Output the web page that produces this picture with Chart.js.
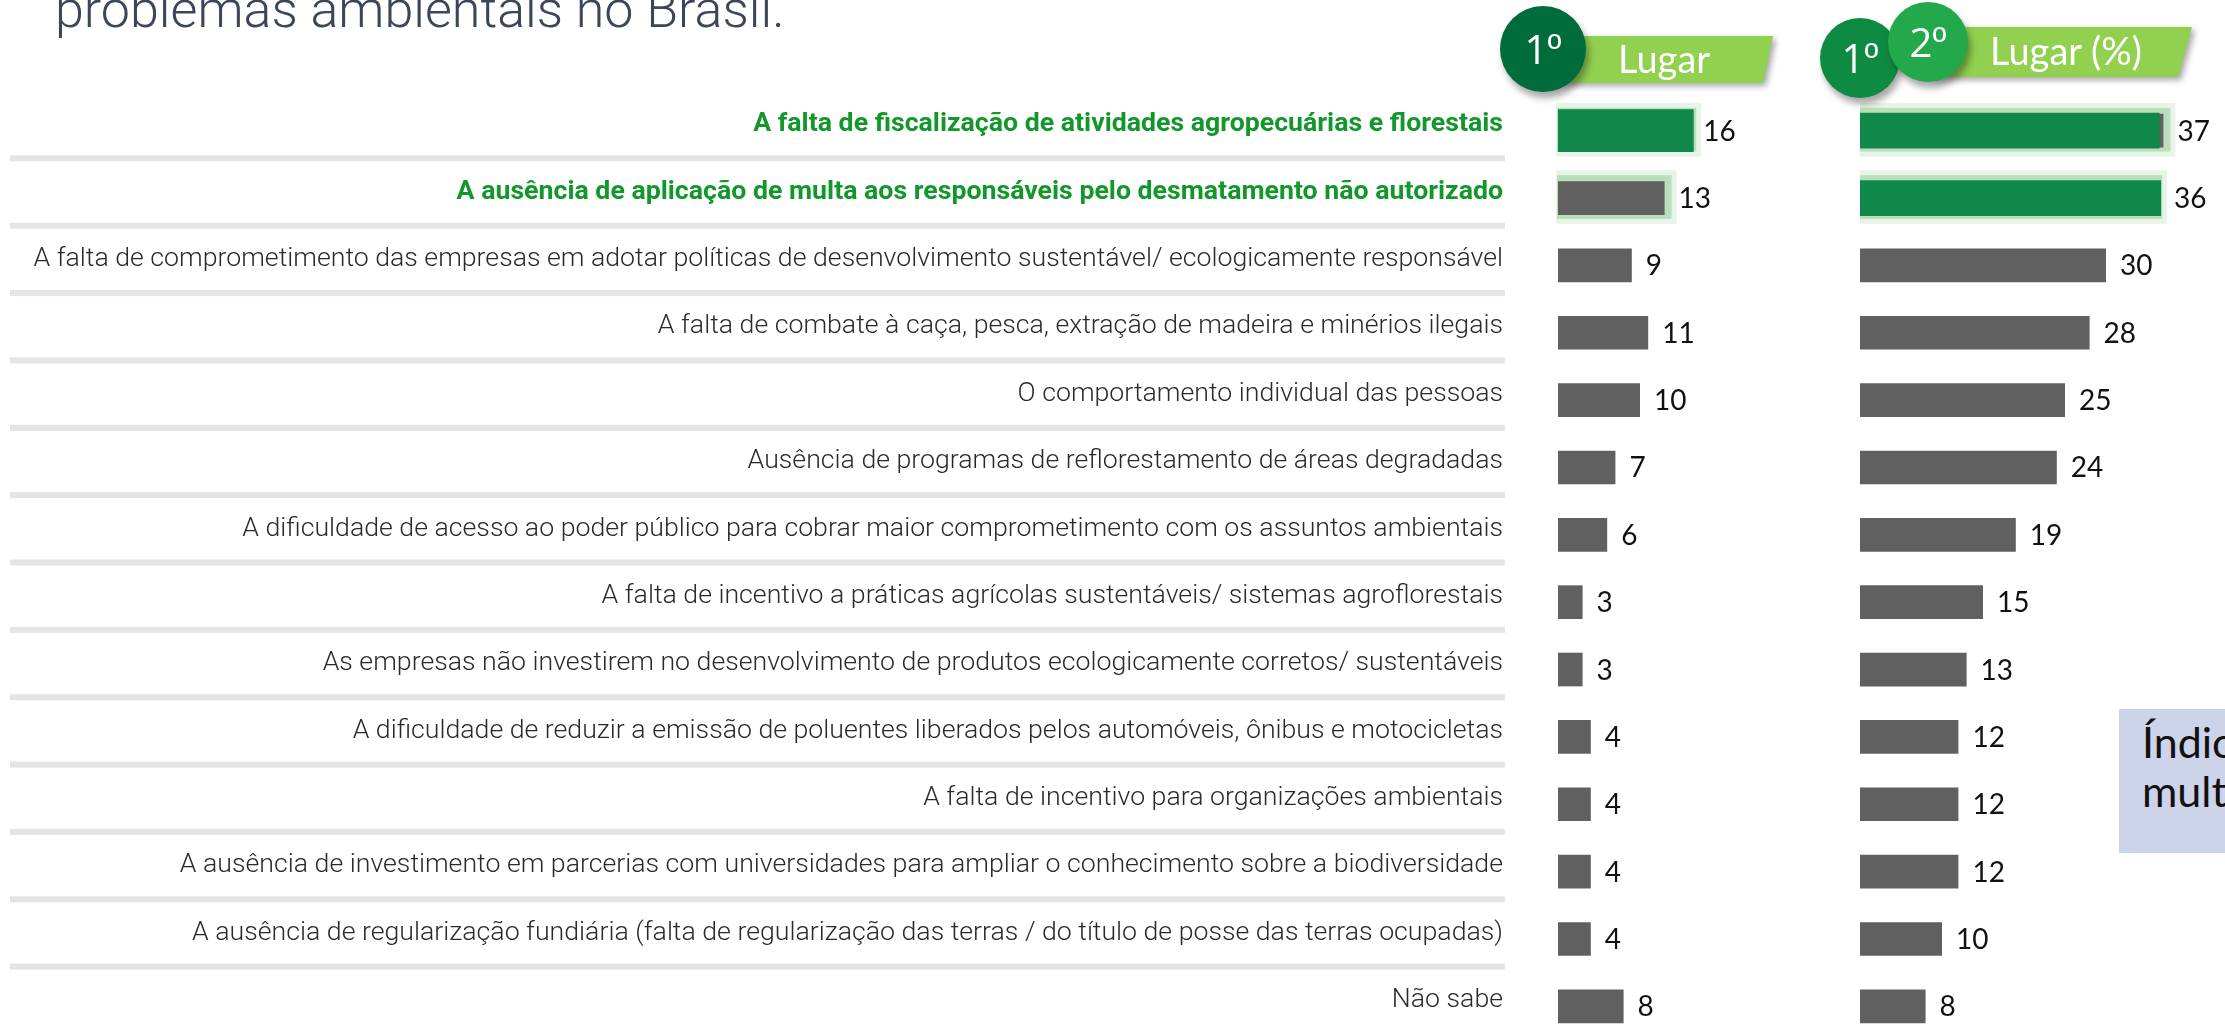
<!DOCTYPE html>
<html lang="pt-BR">
<head>
<meta charset="utf-8">
<script src="https://cdn.jsdelivr.net/npm/chart.js@4.4.0/dist/chart.umd.min.js"></script>
<style>
  html, body { margin: 0; padding: 0; background: #fff; width: 2225px; height: 1024px; overflow: hidden; }
  #pagina { position: relative; width: 2225px; height: 1024px; overflow: hidden; }
  .titulo { position: absolute; left: 55px; top: -20px; font: 300 52px/1.172 Roboto, sans-serif; color: #3b4658; white-space: nowrap; }
  #grafEsq { position: absolute; left: 0; top: 0; }
  #grafDir { position: absolute; left: 1860px; top: 0; }
  .faixa-sombra { position: absolute; filter: drop-shadow(3px 3px 3px rgba(0,0,0,0.35)); }
  .faixa { background: #92d050; color: #fff; font: 400 38px/1.2 Lato, sans-serif; box-sizing: border-box; white-space: nowrap; }
  .circulo { position: absolute; border-radius: 50%; color: #fff; font: 400 40px/1.2 "Open Sans", sans-serif;
             display: flex; align-items: center; justify-content: center; box-shadow: 3px 6px 7px rgba(0,0,0,0.35); }
  .circulo span { font-family: "Liberation Sans", sans-serif; font-size: 38px; }
  .caixa { position: absolute; left: 2119px; top: 709px; width: 300px; height: 144px; background: #cdd3e8;
           font: 400 43px/49px Lato, sans-serif; color: #111; box-sizing: border-box; padding: 8px 0 0 23px; white-space: nowrap; }
</style>
</head>
<body>
<div id="pagina">
  <div class="titulo">problemas ambientais no Brasil.</div>

  <canvas id="grafEsq" width="1804" height="1040"></canvas>
  <canvas id="grafDir" width="369" height="1040"></canvas>

  <div class="faixa-sombra" style="left:1530px; top:36px;">
    <div class="faixa" style="width:243px; height:47px; padding-left:88px; clip-path: polygon(0 0, 100% 0, calc(100% - 10px) 100%, 0 100%);">Lugar</div>
  </div>
  <div class="circulo" style="left:1500px; top:6px; width:86px; height:86px; background:#006b3b;">1<span>º</span></div>

  <div class="faixa-sombra" style="left:1930px; top:27px;">
    <div class="faixa" style="width:262px; height:50px; padding-left:60px; line-height:46px; clip-path: polygon(0 0, 100% 0, calc(100% - 14px) 100%, 0 100%);">Lugar (%)</div>
  </div>
  <div class="circulo" style="left:1820px; top:18px; width:80px; height:80px; background:#0f8a43;">1<span>º</span></div>
  <div class="circulo" style="left:1888px; top:2px; width:80px; height:80px; background:#23a84b;">2<span>º</span></div>

  <div class="caixa">Índice de<br>multiplicidade</div>
</div>

<script>
// categorias (ordem do gráfico, de cima para baixo)
const categorias = [
  'A falta de fiscalização de atividades agropecuárias e florestais',
  'A ausência de aplicação de multa aos responsáveis pelo desmatamento não autorizado',
  'A falta de comprometimento das empresas em adotar políticas de desenvolvimento sustentável/ ecologicamente responsável',
  'A falta de combate à caça, pesca, extração de madeira e minérios ilegais',
  'O comportamento individual das pessoas',
  'Ausência de programas de reflorestamento de áreas degradadas',
  'A dificuldade de acesso ao poder público para cobrar maior comprometimento com os assuntos ambientais',
  'A falta de incentivo a práticas agrícolas sustentáveis/ sistemas agroflorestais',
  'As empresas não investirem no desenvolvimento de produtos ecologicamente corretos/ sustentáveis',
  'A dificuldade de reduzir a emissão de poluentes liberados pelos automóveis, ônibus e motocicletas',
  'A falta de incentivo para organizações ambientais',
  'A ausência de investimento em parcerias com universidades para ampliar o conhecimento sobre a biodiversidade',
  'A ausência de regularização fundiária (falta de regularização das terras / do título de posse das terras ocupadas)',
  'Não sabe'
];
// 1º lugar
const primeiroLugar = [16, 13, 9, 11, 10, 7, 6, 3, 3, 4, 4, 4, 4, 8];
// 1º + 2º lugar (%)
const somaLugares = [37, 36, 30, 28, 25, 24, 19, 15, 13, 12, 12, 12, 10, 8];
// barra verde sobreposta no gráfico da direita
const somaDestaque = [36.4, 36.6, null, null, null, null, null, null, null, null, null, null, null, null];
// linhas destacadas (texto em verde e brilho)
const destaques = [0, 1];

const VERDE = '#10884a';
const CINZA = '#606060';
const VERDE_TEXTO = '#12982a';

// linhas cinza entre as categorias
const separadores = {
  id: 'separadores',
  beforeDraw(chart) {
    const y = chart.scales.y, ctx = chart.ctx;
    ctx.save();
    ctx.fillStyle = '#e4e4e4';
    for (let i = 0; i < categorias.length - 1; i++) {
      const meio = (y.getPixelForValue(i) + y.getPixelForValue(i + 1)) / 2;
      ctx.fillRect(10, meio - 9, 1495, 6);
    }
    ctx.restore();
  }
};

// brilho verde por trás das barras destacadas
function brilho(indice) {
  return {
    id: 'brilho',
    beforeDatasetsDraw(chart) {
      const ctx = chart.ctx, meta = chart.getDatasetMeta(indice);
      ctx.save();
      destaques.forEach(i => {
        const b = meta.data[i];
        const topo = b.y - b.height / 2, comp = b.x - b.base;
        ctx.fillStyle = 'rgba(175,218,175,0.3)';
        ctx.fillRect(b.base - 2, topo - 11, comp + 14, b.height + 20);
        ctx.fillStyle = 'rgba(150,205,150,0.55)';
        ctx.fillRect(b.base - 1, topo - 6, comp + 8, b.height + 10);
      });
      ctx.restore();
    }
  };
}

// rótulos de valor à direita das barras
function rotulos(indice) {
  return {
    id: 'rotulos',
    afterDatasetsDraw(chart) {
      const ctx = chart.ctx;
      const valores = chart.data.datasets[indice].data;
      ctx.save();
      ctx.font = '28px Lato';
      ctx.fillStyle = '#111';
      ctx.textBaseline = 'middle';
      chart.getDatasetMeta(indice).data.forEach((b, i) => {
        let fim = b.x;
        chart.data.datasets.forEach((d, k) => {
          const outra = chart.getDatasetMeta(k).data[i];
          if (d.data[i] != null && outra.x > fim) fim = outra.x;
        });
        ctx.fillText(valores[i], fim + 14, b.y + 1);
      });
      ctx.restore();
    }
  };
}

const eixoY = {
  type: 'category',
  offset: true,
  grid: { display: false, drawTicks: false },
  border: { display: false }
};

new Chart(document.getElementById('grafEsq'), {
  type: 'bar',
  data: {
    labels: categorias,
    datasets: [{
      data: primeiroLugar,
      backgroundColor: primeiroLugar.map((v, i) => i === 0 ? VERDE : CINZA),
      inflateAmount: c => c.dataIndex === 0 ? 4.5 : 'auto',
      barPercentage: 0.5,
      categoryPercentage: 1
    }]
  },
  options: {
    indexAxis: 'y',
    responsive: false,
    animation: false,
    layout: { padding: { top: 97, left: 0, right: 0, bottom: 0 } },
    plugins: { legend: { display: false }, tooltip: { enabled: false } },
    scales: {
      x: { display: false, min: 0, max: 30 },
      y: Object.assign({}, eixoY, {
        afterFit(s) { s.width = 1558; s.paddingTop = 0; s.paddingBottom = 0; },
        ticks: {
          padding: 55,
          labelOffset: -6,
          color: c => destaques.includes(c.index) ? VERDE_TEXTO : '#2a2a2a',
          font: c => ({ family: 'Roboto', size: 26.7, weight: destaques.includes(c.index) ? 'bold' : 300 })
        }
      })
    }
  },
  plugins: [separadores, brilho(0), rotulos(0)]
});

new Chart(document.getElementById('grafDir'), {
  type: 'bar',
  data: {
    labels: categorias,
    datasets: [
      { data: somaDestaque, backgroundColor: VERDE, inflateAmount: 1, barPercentage: 0.5, categoryPercentage: 1, grouped: false },
      { data: somaLugares, backgroundColor: CINZA, barPercentage: 0.5, categoryPercentage: 1, grouped: false }
    ]
  },
  options: {
    indexAxis: 'y',
    responsive: false,
    animation: false,
    layout: { padding: { top: 97, left: 0, right: 0, bottom: 0 } },
    plugins: { legend: { display: false }, tooltip: { enabled: false } },
    scales: {
      x: { display: false, min: 0, max: 45 },
      y: Object.assign({}, eixoY, { display: false })
    }
  },
  plugins: [brilho(1), rotulos(1)]
});
</script>
</body>
</html>
